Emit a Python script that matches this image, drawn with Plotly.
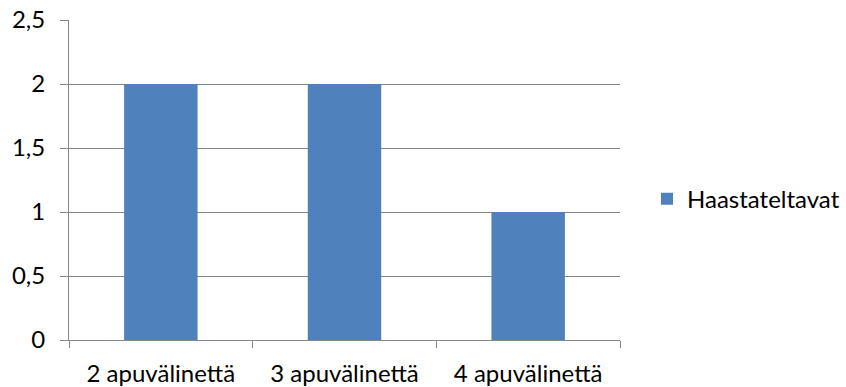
import plotly.graph_objects as go

categories = ["2 apuvälinettä", "3 apuvälinettä", "4 apuvälinettä"]
haastateltavat = [2, 2, 1]
series_name = "Haastateltavat"

grid_color = "#888888"
font = dict(family="Lato, 'Open Sans', sans-serif", size=24, color="#000000")

fig = go.Figure()
fig.add_trace(go.Bar(
    x=categories,
    y=haastateltavat,
    name=series_name,
    marker=dict(color="#4F81BD", line=dict(width=0)),
    showlegend=True,
))

fig.update_layout(
    width=846,
    height=387,
    margin=dict(l=69, r=226, t=20, b=47, autoexpand=False),
    paper_bgcolor="white",
    plot_bgcolor="white",
    separators=", ",
    font=font,
    bargap=0.6,
    showlegend=True,
    legend=dict(
        x=1.049, y=0.44, xanchor="left", yanchor="middle",
        font=font, itemsizing="constant", bgcolor="rgba(0,0,0,0)",
    ),
    xaxis=dict(
        type="category",
        automargin=False,
        showgrid=False,
        showline=True,
        linecolor=grid_color,
        linewidth=1,
        ticks="outside",
        tickson="boundaries",
        ticklen=7,
        tickcolor=grid_color,
        tickfont=font,
        ticklabelstandoff=12,
        range=[-0.5, 2.5],
        fixedrange=True,
    ),
    yaxis=dict(
        automargin=False,
        range=[0, 2.5],
        tickvals=[0, 0.5, 1, 1.5, 2, 2.5],
        showgrid=True,
        gridcolor=grid_color,
        gridwidth=1,
        zeroline=False,
        showline=True,
        linecolor=grid_color,
        ticks="outside",
        ticklen=8,
        tickcolor=grid_color,
        tickfont=font,
        ticklabelstandoff=10,
        fixedrange=True,
    ),
)

fig.write_html("out.html")
